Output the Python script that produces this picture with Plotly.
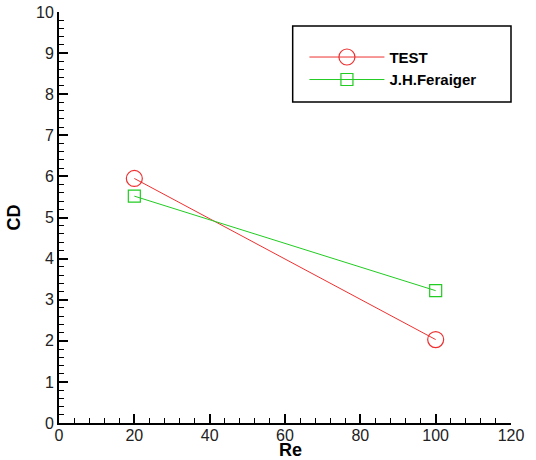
import plotly.graph_objects as go

re_vals = [20, 100]
cd_test = [5.95, 2.03]
cd_feraiger = [5.52, 3.22]

fig = go.Figure()
fig.add_trace(go.Scatter(
    x=re_vals, y=cd_test, name="TEST", mode="lines+markers",
    line=dict(color="#ee3030", width=1),
    marker=dict(symbol="circle-open", size=16, color="#ee3030", line=dict(width=1.2)),
))
fig.add_trace(go.Scatter(
    x=re_vals, y=cd_feraiger, name="J.H.Feraiger", mode="lines+markers",
    line=dict(color="#22cc22", width=1),
    marker=dict(symbol="square-open", size=12, color="#22cc22", line=dict(width=1.2)),
))

axis_common = dict(
    showgrid=False, zeroline=False, showline=True, linecolor="black", linewidth=2,
    ticks="inside", ticklen=9, tickwidth=2, tickcolor="black",
    tickfont=dict(family="Liberation Sans, Arial", size=16, color="#222"),
    mirror=False, automargin=False, ticklabeloverflow="allow",
)
fig.update_xaxes(range=[0, 120], dtick=20, tick0=0,
                 minor=dict(ticks="inside", ticklen=5, tickwidth=1, dtick=4, tickcolor="black"),
                 ticklabelstandoff=-3,
                 **axis_common)
fig.update_yaxes(range=[0, 10], dtick=1, tick0=0,
                 minor=dict(ticks="inside", ticklen=5, tickwidth=1, dtick=0.2, tickcolor="black"),
                 title=dict(text="<b>CD</b>", font=dict(family="Liberation Sans, Arial", size=18, color="black"), standoff=11),
                 **axis_common)

fig.add_annotation(text="<b>Re</b>", xref="paper", yref="paper",
                   x=(290 - 59) / 452, y=-(450 - 423) / 411, xanchor="center", yanchor="middle",
                   height=18, valign="middle",
                   showarrow=False, font=dict(family="Liberation Sans, Arial", size=18, color="black"))

fig.add_shape(type="rect", xref="paper", yref="paper",
              x0=0.517, x1=1.0, y0=0.781, y1=0.966,
              line=dict(color="black", width=1.5), fillcolor="white", layer="below")

fig.update_layout(
    width=536, height=460,
    margin=dict(l=59, r=25, t=12, b=37),
    plot_bgcolor="white", paper_bgcolor="white",
    legend=dict(
        x=0.543, y=0.93, xanchor="left", yanchor="top",
        borderwidth=0, bgcolor="rgba(0,0,0,0)",
        font=dict(family="Liberation Sans, Arial", size=15, color="black", weight="bold"),
        itemwidth=75, tracegroupgap=0,
    ),
)
fig.write_html("out.html", config={"displayModeBar": False},
               post_script="document.body.style.margin='0';document.body.style.overflow='hidden';")
